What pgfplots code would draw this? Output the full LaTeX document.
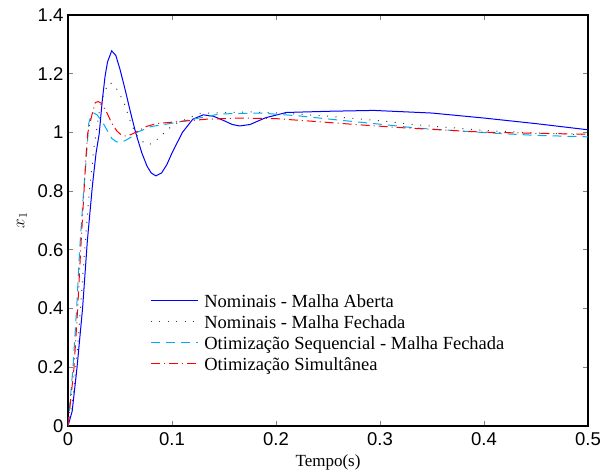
\documentclass[border=0pt]{standalone}
\usepackage{fontspec}
\setmainfont{Liberation Serif}
\newfontfamily\ticksans{Liberation Sans}
\usepackage{pgfplots}
\pgfplotsset{compat=1.18}
\usetikzlibrary{calc}

% Nominais - malha aberta
\pgfplotstableread{
t y
0 0
0.004 0.05
0.0087 0.2
0.014 0.4
0.0186 0.63
0.0235 0.82
0.027 0.93
0.030 0.995
0.033 1.11
0.0356 1.19
0.038 1.24
0.042 1.278
0.046 1.262
0.050 1.215
0.055 1.145
0.060 1.07
0.065 1.0
0.071 0.93
0.076 0.885
0.080 0.862
0.0845 0.852
0.090 0.862
0.095 0.89
0.100 0.93
0.110 1.0
0.120 1.045
0.130 1.06
0.140 1.055
0.150 1.04
0.158 1.027
0.165 1.022
0.175 1.027
0.190 1.05
0.210 1.068
0.250 1.072
0.294 1.075
0.350 1.066
0.400 1.049
0.450 1.03
0.500 1.009
}\nomaberta

% Nominais - malha fechada
\pgfplotstableread{
t y
0 0
0.005 0.1
0.010 0.3
0.015 0.55
0.020 0.78
0.025 0.95
0.030 1.07
0.035 1.14
0.040 1.17
0.045 1.16
0.050 1.128
0.0535 1.105
0.060 1.037
0.065 0.995
0.0695 0.975
0.0757 0.958
0.082 0.963
0.090 0.99
0.101 1.026
0.116 1.049
0.127 1.065
0.150 1.067
0.175 1.07
0.210 1.065
0.255 1.054
0.300 1.04
0.335 1.026
0.400 1.007
0.450 0.998
0.500 0.992
}\nomfechada

% Otimizacao sequencial - malha fechada
\pgfplotstableread{
t y
0 0
0.0048 0.2
0.0083 0.4
0.0112 0.6
0.015 0.8
0.0167 0.872
0.020 1.032
0.0225 1.06
0.0247 1.066
0.028 1.06
0.031 1.045
0.034 1.03
0.038 1.005
0.042 0.98
0.046 0.969
0.049 0.966
0.055 0.972
0.0615 0.986
0.066 1.0
0.080 1.02
0.101 1.032
0.120 1.045
0.146 1.063
0.185 1.066
0.220 1.057
0.258 1.043
0.300 1.028
0.335 1.015
0.406 0.998
0.450 0.99
0.500 0.985
}\otseq

% Otimizacao simultanea
\pgfplotstableread{
t y
0 0
0.0058 0.2
0.0093 0.4
0.0122 0.6
0.0154 0.8
0.0173 0.918
0.019 0.998
0.023 1.06
0.0263 1.102
0.029 1.105
0.032 1.10
0.037 1.07
0.042 1.032
0.047 1.005
0.051 0.992
0.055 0.988
0.060 0.992
0.065 1.0
0.075 1.02
0.085 1.03
0.100 1.035
0.133 1.045
0.165 1.049
0.200 1.047
0.239 1.037
0.280 1.026
0.326 1.015
0.399 1.001
0.450 0.997
0.500 0.994
}\otsim

\begin{document}
\begin{tikzpicture}
\begin{axis}[
  name=ax, at={(0,0)}, anchor=south west,
  scale only axis, width=520pt, height=411pt,
  xmin=0, xmax=0.5, ymin=0, ymax=1.4,
  xtick={0,0.1,...,0.5}, ytick={0,0.2,...,1.4},
  xticklabels={0,0.1,0.2,0.3,0.4,0.5},
  yticklabels={0,0.2,0.4,0.6,0.8,1,1.2,1.4},
  tick align=inside, major tick length=5pt,
  axis line style={line width=1.1pt},
  tick style={line width=0.8pt},
  tick label style={font=\ticksans\fontsize{18.5}{20}\selectfont},
  xticklabel style={yshift=-3pt},
  yticklabel style={xshift=-1pt},
  xlabel={Tempo(s)}, ylabel={$x_1$},
  label style={font=\fontsize{17}{20}\selectfont},
  xlabel style={yshift=-2pt},
  ylabel style={yshift=4pt},
  legend cell align=left,
  legend image code/.code={\draw[#1] (0pt,0pt) -- (47pt,0pt); \path (51pt,0pt);},
  legend style={draw=white, at={(axis cs:0.079,0.4635)}, anchor=north west,
    font=\fontsize{18.5}{22}\selectfont, inner sep=0pt, row sep=0pt},
]
\addplot[blue, line width=1pt] table {\nomaberta};
\addlegendentry{\strut Nominais - Malha Aberta}
\addplot[black!75, line width=1pt, dash pattern=on 1pt off 7.5pt] table {\nomfechada};
\addlegendentry{\strut Nominais - Malha Fechada}
\addplot[cyan, line width=1pt, dash pattern=on 9pt off 6pt] table {\otseq};
\addlegendentry{\strut Otimização Sequencial - Malha Fechada}
\addplot[red, line width=1pt, dash pattern=on 9pt off 4pt on 1pt off 4pt] table {\otsim};
\addlegendentry{\strut Otimização Simultânea}
\end{axis}
\pgfresetboundingbox
\path[use as bounding box] ($(ax.south west)+(-68pt,-49pt)$) rectangle ($(ax.north east)+(14pt,15pt)$);
\end{tikzpicture}
\end{document}
